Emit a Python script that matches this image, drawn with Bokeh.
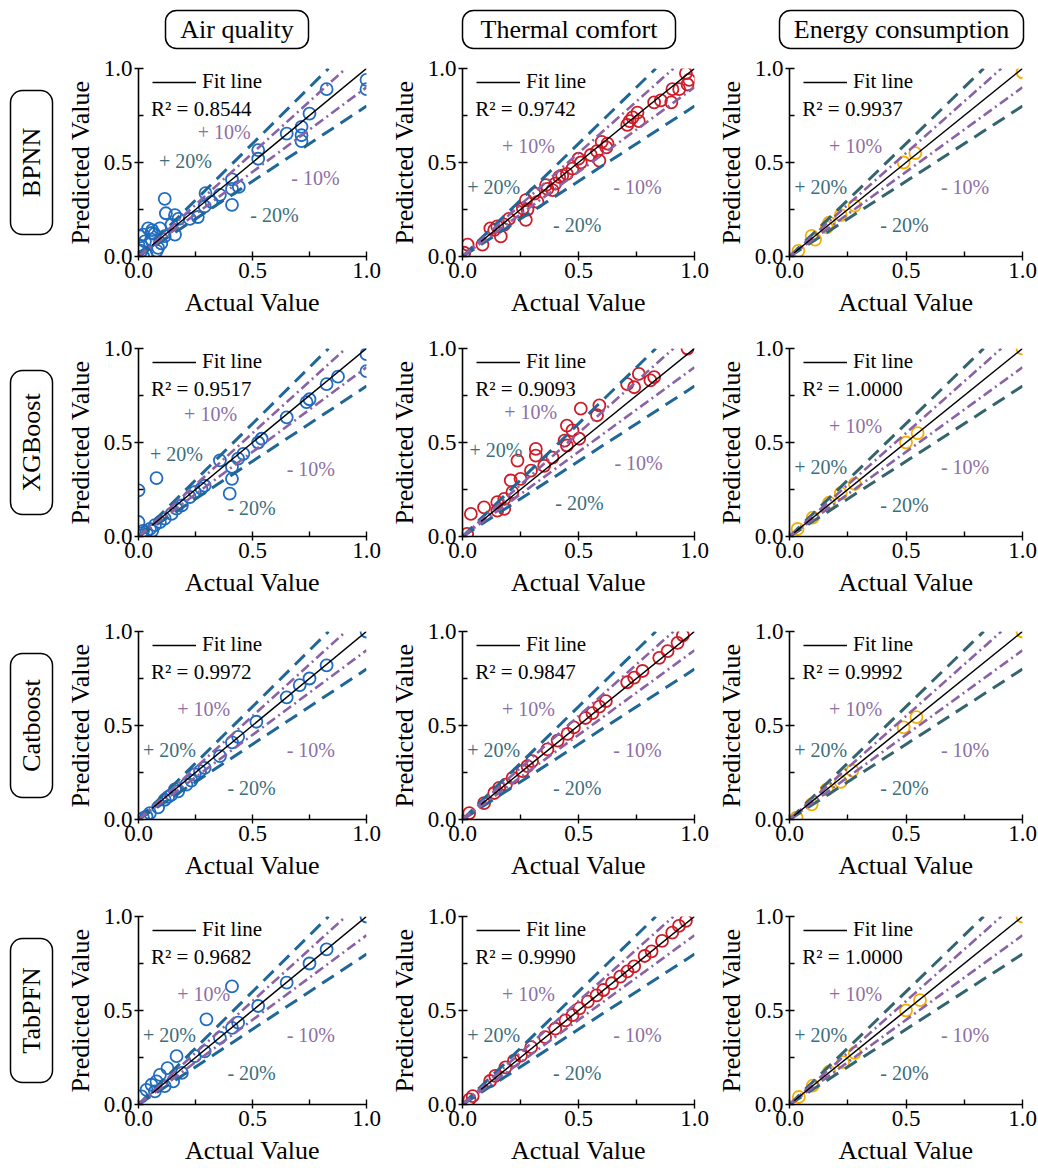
import numpy as np
from bokeh.plotting import figure
from bokeh.layouts import row, column
from bokeh.models import Range1d, FixedTicker, PrintfTickFormatter, Label, Legend, LegendItem
from bokeh.core.properties import value
from bokeh.embed import file_html
from bokeh.resources import INLINE

# ---------------- data ----------------
TASKS = ["Air quality", "Thermal comfort", "Energy consumption"]
MODELS = ["BPNN", "XGBoost", "Catboost", "TabPFN"]
R2 = [["0.8544", "0.9742", "0.9937"],
      ["0.9517", "0.9093", "1.0000"],
      ["0.9972", "0.9847", "0.9992"],
      ["0.9682", "0.9990", "1.0000"]]
TICKS = [0.0, 0.5, 1.0]
MINOR_TICKS = [0.25, 0.75]
BANDS = [0.2, 0.1]  # +/- relative error bands

air_bpnn_x = [0.825, 1.0, 1.0, 0.75, 0.715, 0.715, 0.715, 0.65, 0.525, 0.525, 0.41, 0.44, 0.41, 0.41,
              0.357, 0.32, 0.294, 0.29, 0.26, 0.225, 0.115, 0.12, 0.16, 0.175, 0.16, 0.145, 0.094, 0.042,
              0.02, 0.028, 0.057, 0.086, 0.08, 0.013, 0.013, 0.035, 0.057, 0.115, 0.1, 0.006, 0.0, 0.02,
              0.06, 0.07]
air_bpnn_y = [0.89, 0.94, 0.89, 0.76, 0.69, 0.645, 0.614, 0.654, 0.566, 0.52, 0.41, 0.37, 0.36, 0.275,
              0.328, 0.29, 0.337, 0.266, 0.21, 0.2, 0.307, 0.23, 0.22, 0.2, 0.116, 0.17, 0.15, 0.15,
              0.116, 0.08, 0.09, 0.046, 0.03, 0.03, 0.055, 0.01, 0.125, 0.108, 0.07, 0.107, 0.06, 0.0,
              0.14, 0.12]
air_xgb_x = [1.0, 1.0, 0.875, 0.825, 0.75, 0.737, 0.65, 0.54, 0.525, 0.46, 0.437, 0.357, 0.41, 0.41,
             0.40, 0.079, 0.0, 0.0, 0.29, 0.276, 0.247, 0.225, 0.19, 0.167, 0.145, 0.115, 0.094, 0.072,
             0.05, 0.035, 0.013, 0.06, 0.02]
air_xgb_y = [0.97, 0.88, 0.85, 0.81, 0.73, 0.715, 0.634, 0.52, 0.5, 0.44, 0.414, 0.405, 0.37, 0.307,
             0.228, 0.311, 0.245, 0.077, 0.27, 0.255, 0.236, 0.21, 0.165, 0.148, 0.12, 0.095, 0.077, 0.06,
             0.04, 0.023, 0.005, 0.03, 0.03]
air_cat_x = [1.0, 0.825, 0.75, 0.707, 0.65, 0.517, 0.437, 0.41, 0.357, 0.29, 0.27, 0.247, 0.232, 0.21,
             0.174, 0.145, 0.115, 0.086, 0.05, 0.02, 0.035, 0.16, 0.13]
air_cat_y = [1.0, 0.82, 0.75, 0.715, 0.65, 0.52, 0.44, 0.41, 0.337, 0.275, 0.257, 0.24, 0.207, 0.185,
             0.15, 0.132, 0.105, 0.064, 0.034, 0.007, 0.016, 0.16, 0.12]
air_tab_x = [1.0, 0.825, 0.75, 0.65, 0.525, 0.437, 0.41, 0.357, 0.298, 0.41, 0.29, 0.247, 0.167, 0.127,
             0.094, 0.079, 0.057, 0.035, 0.013, 0.072, 0.115, 0.152, 0.19]
air_tab_y = [1.0, 0.825, 0.75, 0.648, 0.524, 0.435, 0.408, 0.355, 0.453, 0.628, 0.283, 0.257, 0.257,
             0.194, 0.158, 0.123, 0.105, 0.078, 0.043, 0.07, 0.098, 0.123, 0.168]

th_bpnn_x = [0.963, 0.977, 0.97, 0.934, 0.905, 0.9, 0.855, 0.826, 0.754, 0.733, 0.76, 0.71, 0.625, 0.6,
             0.58, 0.553, 0.59, 0.51, 0.474, 0.45, 0.417, 0.4, 0.366, 0.36, 0.388, 0.31, 0.323, 0.273,
             0.26, 0.237, 0.273, 0.2, 0.15, 0.165, 0.137, 0.086, 0.022, 0.007, 0.5, 0.43, 0.18, 0.12,
             0.28, 0.62, 0.72]
th_bpnn_y = [0.975, 0.94, 0.915, 0.89, 0.89, 0.82, 0.83, 0.82, 0.765, 0.74, 0.72, 0.70, 0.6, 0.61,
             0.56, 0.54, 0.51, 0.5, 0.467, 0.44, 0.423, 0.388, 0.36, 0.38, 0.353, 0.335, 0.29, 0.3,
             0.256, 0.24, 0.195, 0.2, 0.16, 0.107, 0.142, 0.063, 0.063, 0.02, 0.52, 0.43, 0.17, 0.15,
             0.25, 0.58, 0.72]
th_xgb_x = [0.97, 0.826, 0.81, 0.76, 0.74, 0.71, 0.59, 0.58, 0.51, 0.45, 0.474, 0.503, 0.44, 0.45, 0.388,
            0.316, 0.316, 0.352, 0.295, 0.237, 0.25, 0.208, 0.215, 0.18, 0.15, 0.18, 0.15, 0.093, 0.036,
            0.02]
th_xgb_y = [1.0, 0.848, 0.83, 0.865, 0.794, 0.81, 0.697, 0.645, 0.68, 0.59, 0.564, 0.52, 0.51, 0.484, 0.42,
            0.466, 0.43, 0.376, 0.35, 0.404, 0.307, 0.298, 0.236, 0.2, 0.183, 0.147, 0.138, 0.155, 0.12,
            0.014]
th_cat_x = [0.95, 0.927, 0.884, 0.848, 0.776, 0.74, 0.71, 0.618, 0.59, 0.56, 0.53, 0.48, 0.453, 0.41,
            0.366, 0.3, 0.28, 0.259, 0.216, 0.187, 0.158, 0.137, 0.093, 0.029]
th_cat_y = [0.98, 0.94, 0.896, 0.86, 0.79, 0.755, 0.73, 0.63, 0.6, 0.566, 0.54, 0.49, 0.455, 0.42,
            0.373, 0.31, 0.284, 0.257, 0.221, 0.185, 0.168, 0.141, 0.087, 0.034]
th_tab_x = [0.963, 0.933, 0.904, 0.86, 0.815, 0.785, 0.74, 0.711, 0.68, 0.644, 0.607, 0.578, 0.54, 0.504,
            0.474, 0.444, 0.4, 0.356, 0.296, 0.252, 0.222, 0.185, 0.141, 0.119, 0.03, 0.044]
th_tab_y = [0.977, 0.95, 0.914, 0.87, 0.815, 0.79, 0.735, 0.708, 0.68, 0.645, 0.609, 0.58, 0.547, 0.511,
            0.475, 0.448, 0.403, 0.358, 0.305, 0.26, 0.233, 0.197, 0.152, 0.125, 0.027, 0.045]

en_bpnn_x = [0.038, 0.095, 0.11, 0.17, 0.16, 0.22, 0.28, 0.49, 0.54, 1.0]
en_bpnn_y = [0.03, 0.11, 0.09, 0.18, 0.155, 0.22, 0.27, 0.5, 0.55, 0.98]
en_xgb_x = [0.035, 0.1, 0.17, 0.22, 0.28, 0.5, 0.55, 1.0]
en_xgb_y = [0.04, 0.1, 0.18, 0.23, 0.28, 0.5, 0.55, 1.0]
en_cat_x = [0.03, 0.095, 0.16, 0.22, 0.27, 0.49, 0.545, 1.0]
en_cat_y = [0.01, 0.08, 0.16, 0.2, 0.26, 0.49, 0.545, 1.0]
en_tab_x = [0.04, 0.1, 0.17, 0.23, 0.28, 0.5, 0.56, 1.0]
en_tab_y = [0.04, 0.1, 0.175, 0.225, 0.275, 0.5, 0.555, 1.0]

DATA = [[(air_bpnn_x, air_bpnn_y), (th_bpnn_x, th_bpnn_y), (en_bpnn_x, en_bpnn_y)],
        [(air_xgb_x, air_xgb_y), (th_xgb_x, th_xgb_y), (en_xgb_x, en_xgb_y)],
        [(air_cat_x, air_cat_y), (th_cat_x, th_cat_y), (en_cat_x, en_cat_y)],
        [(air_tab_x, air_tab_y), (th_tab_x, th_tab_y), (en_tab_x, en_tab_y)]]
FIT_START = [0.06, 0.08, 0.02]   # start of fitted line for each column
FIT_END = 1.0

# ---------------- styles ----------------
FONT = "Liberation Serif"
POINT_COLORS = ["#1f6cc0", "#d01c28", "#f4b000"]
BAND20_COLORS = ["#1f6796", "#1f6796", "#34656e"]
BAND10_COLOR = "#8a62a6"
LAB10_COLOR = "#8d6fa5"
LAB20_COLOR = "#3c6e7c"

DEFAULT_POS = {"+10": (0.17, 0.59), "+20": (0.02, 0.37), "-10": (0.65, 0.37), "-20": (0.39, 0.17)}
POS_OVERRIDE = {
    (0, 0): {"+10": (0.26, 0.66), "+20": (0.09, 0.51), "-10": (0.67, 0.42), "-20": (0.49, 0.22)},
    (1, 0): {"+10": (0.20, 0.65), "+20": (0.05, 0.44), "-10": (0.65, 0.36), "-20": (0.39, 0.15)},
    (1, 1): {"+10": (0.18, 0.66), "+20": (0.03, 0.46), "-10": (0.655, 0.39), "-20": (0.40, 0.18)},
}

# layout geometry (pixels)
LABEL_W = 62
HEADER_H = 56
COLS = [dict(bl=75, fw=228, br=20), dict(bl=75, fw=232, br=19), dict(bl=75, fw=233, br=15)]
ROWS_BOTTOM = [80, 83, 85, 62]
ROW_TOP = 12
FRAME_H = 188


def style_axis(ax, label, standoff):
    ax.axis_label = label
    ax.ticker = FixedTicker(ticks=TICKS, minor_ticks=MINOR_TICKS)
    ax.formatter = PrintfTickFormatter(format="%.1f")
    ax.axis_line_color = "black"
    ax.axis_line_width = 1.6
    ax.major_tick_line_color = "black"
    ax.minor_tick_line_color = "black"
    ax.major_tick_line_width = 1.4
    ax.minor_tick_line_width = 1.4
    ax.major_tick_in = 5
    ax.major_tick_out = 4
    ax.minor_tick_in = 5
    ax.minor_tick_out = 0
    ax.major_label_text_font = FONT
    ax.major_label_text_font_size = "23px"
    ax.major_label_text_color = "black"
    ax.major_label_standoff = 2
    ax.axis_label_text_font = FONT
    ax.axis_label_text_font_size = "26px"
    ax.axis_label_text_font_style = "normal"
    ax.axis_label_text_color = "black"
    ax.axis_label_standoff = standoff


def make_panel(r, c):
    spec = COLS[c]
    p = figure(title=None, frame_width=spec["fw"], frame_height=FRAME_H,
               min_border_left=spec["bl"], min_border_right=spec["br"],
               min_border_top=ROW_TOP, min_border_bottom=ROWS_BOTTOM[r],
               x_range=Range1d(0, 1), y_range=Range1d(0, 1),
               toolbar_location=None, output_backend="svg", outline_line_color=None)
    p.xgrid.visible = False
    p.ygrid.visible = False
    style_axis(p.xaxis[0], "Actual Value", 7)
    style_axis(p.yaxis[0], "Predicted Value", 6)

    xs, ys = DATA[r][c]
    assert len(xs) == len(ys)
    p.scatter(xs, ys, marker="circle", size=12, fill_color=None,
              line_color=POINT_COLORS[c], line_width=1.8)

    # error bands
    for b in BANDS:
        col = BAND20_COLORS[c] if b == 0.2 else BAND10_COLOR
        dash = "14 8" if b == 0.2 else "10 4 2 4"
        lw = 3 if b == 0.2 else 2.6
        p.line([0, 1 / (1 + b)], [0, 1], line_color=col, line_width=lw, line_dash=dash)
        p.line([0, 1], [0, 1 - b], line_color=col, line_width=lw, line_dash=dash)

    fit = p.line([FIT_START[c], FIT_END], [FIT_START[c], FIT_END], line_color="black", line_width=1.5)

    legend = Legend(items=[LegendItem(label="Fit line", renderers=[fit])],
                    location=(14, int(0.93 * FRAME_H) - 12), orientation="vertical",
                    glyph_width=44, glyph_height=24, label_height=24, label_standoff=6,
                    padding=0, margin=0, spacing=0, border_line_color=None,
                    background_fill_alpha=0, label_text_font=FONT,
                    label_text_font_size="21px", label_text_color="black")
    p.add_layout(legend)

    p.add_layout(Label(x=0.055, y=0.785, text="R\u00b2 = " + R2[r][c], text_font=FONT,
                       text_font_size="21px", text_baseline="middle", text_color="black"))

    pos = POS_OVERRIDE.get((r, c), DEFAULT_POS)
    for key, txt, colr in [("+10", "+ 10%", LAB10_COLOR), ("+20", "+ 20%", LAB20_COLOR),
                           ("-10", "- 10%", LAB10_COLOR), ("-20", "- 20%", LAB20_COLOR)]:
        x, y = pos[key]
        p.add_layout(Label(x=x, y=y, text=txt, text_font=FONT, text_font_size="20px",
                           text_baseline="middle", text_color=colr))
    return p


row_heights = [ROW_TOP + FRAME_H + b for b in ROWS_BOTTOM]
total_h = HEADER_H + sum(row_heights)
grid_w = sum(s["bl"] + s["fw"] + s["br"] for s in COLS)

# header figure (column titles)
hdr = figure(title=None, width=grid_w, height=HEADER_H, x_range=Range1d(0, grid_w), y_range=Range1d(0, HEADER_H),
             x_axis_type=None, y_axis_type=None, toolbar_location=None, output_backend="svg",
             outline_line_color=None, min_border=0)
hdr.xgrid.visible = False
hdr.ygrid.visible = False
box_widths = [143, 213, 244]
box_offsets = [-14.5, -7.5, -1.5]
cx, lefts, rights, centers = 0, [], [], []
for s, bw, off in zip(COLS, box_widths, box_offsets):
    center = cx + s["bl"] + s["fw"] / 2 + off
    centers.append(center)
    lefts.append(center - bw / 2)
    rights.append(center + bw / 2)
    cx += s["bl"] + s["fw"] + s["br"]
hdr.quad(left=lefts, right=rights, top=[HEADER_H - 10] * 3, bottom=[HEADER_H - 48] * 3, border_radius=11,
         fill_color=None, line_color="black", line_width=1.5)
hdr.text(x=centers, y=[HEADER_H - 29] * 3, text=TASKS, text_font=value(FONT), text_font_size=value("26px"),
         text_align="center", text_baseline="middle", text_color="black")

# row labels figure
lab = figure(title=None, width=LABEL_W, height=total_h, x_range=Range1d(0, LABEL_W), y_range=Range1d(0, total_h),
             x_axis_type=None, y_axis_type=None, toolbar_location=None, output_backend="svg",
             outline_line_color=None, min_border=0)
lab.xgrid.visible = False
lab.ygrid.visible = False
ycs = []
yy = HEADER_H
for h in row_heights:
    ycs.append(total_h - (yy + ROW_TOP + FRAME_H / 2))
    yy += h
lab.quad(left=[10] * 4, right=[52] * 4, top=[y + 72 for y in ycs], bottom=[y - 72 for y in ycs],
         border_radius=12, fill_color=None, line_color="black", line_width=1.5)
lab.text(x=[31] * 4, y=ycs, text=MODELS, text_font=value(FONT), text_font_size=value("26px"),
         text_align="center", text_baseline="middle", angle=np.pi / 2, text_color="black")

rows = [row(*[make_panel(r, c) for c in range(3)]) for r in range(4)]
layout = row(lab, column(hdr, *rows))

open("out.html", "w").write(file_html(layout, INLINE))
